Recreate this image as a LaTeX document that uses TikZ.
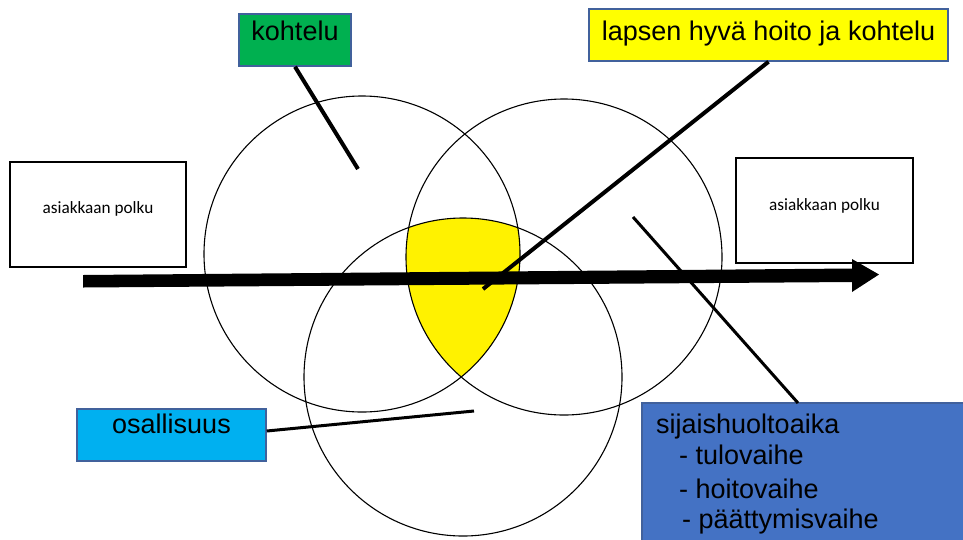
\documentclass[tikz,border=0pt]{standalone}
\usepackage{fontspec}
\setmainfont{Liberation Sans}
\newfontfamily\calib{Carlito}
\definecolor{greenbox}{HTML}{00B050}
\definecolor{yellowbox}{HTML}{FFFF00}
\definecolor{cyanbox}{HTML}{00B0F0}
\definecolor{bluebox}{HTML}{4472C4}
\definecolor{boxedge}{HTML}{41619C}
\definecolor{yellowzone}{HTML}{FFF200}
\begin{document}
\begin{tikzpicture}[x=1pt,y=-1pt,
  lbl/.style={draw=boxedge, line width=1.5pt, font=\fontsize{27}{32}\selectfont, inner sep=0pt},
  pathbox/.style={draw=black, line width=1.3pt, fill=white, font=\calib\fontsize{17.2}{20}\selectfont,
    inner sep=0pt, minimum width=176pt, minimum height=105pt},
  ring/.style={draw=black, line width=1.1pt},
  conn/.style={draw=black, line width=4pt},
  thinconn/.style={draw=black, line width=3pt},
  sijtext/.style={anchor=base west, inner sep=0pt, font=\fontsize{27}{32}\selectfont}
]
\useasboundingbox (0,0) rectangle (963,539);
\fill[white] (0,0) rectangle (963,539);

% circle centres
\coordinate (cL) at (362,254);
\coordinate (cR) at (564,257);
\coordinate (cB) at (463,377);

% common zone
\begin{scope}
  \clip (cL) circle[radius=158pt];
  \clip (cR) circle[radius=158pt];
  \fill[yellowzone] (cB) circle[radius=159pt];
\end{scope}

\draw[ring] (cL) circle[radius=158pt];
\draw[ring] (cR) circle[radius=158pt];
\draw[ring] (cB) circle[radius=159pt];

% customer path boxes
\node[pathbox, text height=12pt, text depth=15pt] (pathL) at (98,214.5) {asiakkaan polku};
\node[pathbox, minimum width=177pt, text height=12pt, text depth=12pt] (pathR) at (824.5,210.5) {asiakkaan polku};

% main arrow
\coordinate (arrS) at (83,281);
\coordinate (arrB) at (853,275);
\coordinate (arrT) at (879,274.5);
\fill[black] (83,275) -- (853,268.5) -- (853,282) -- (83,287.5) -- cycle;
\fill[black] (852,259) -- (arrT) -- (852,292) -- cycle;

% label boxes
\node[lbl, fill=greenbox, minimum width=112pt, minimum height=52pt,
      text height=20pt, text depth=20pt] (koh) at (295,40) {kohtelu};
\node[lbl, fill=yellowbox, minimum width=359pt, minimum height=52pt,
      text height=22pt, text depth=12pt] (lap) at (768.5,35) {lapsen hyvä hoito ja kohtelu};
\node[lbl, fill=cyanbox, minimum width=189pt, minimum height=52pt,
      text height=20pt, text depth=24pt] (osa) at (171.5,435) {osallisuus};
\node[lbl, draw=boxedge, fill=bluebox, anchor=north west, minimum width=340pt,
      minimum height=150pt] (sij) at (641,402) {};
\node[sijtext] (sij0) at (656,433) {sijaishuoltoaika};
\node[sijtext] (sij1) at (679,464) {- tulovaihe};
\node[sijtext] (sij2) at (679,498) {- hoitovaihe};
\node[sijtext] (sij3) at (682,528) {- päättymisvaihe};

% connector ends
\coordinate (kohE) at (358,169);
\coordinate (lapE) at (483,289);
\coordinate (osaE) at (474,411);
\coordinate (sijS) at (798,403);
\coordinate (sijE) at (633,217);

\draw[conn] (koh.south) -- (kohE);
\draw[conn] (lap.south) -- (lapE);
\draw[thinconn] ([yshift=4pt]osa.east) -- (osaE);
\draw[thinconn] (sijS) -- (sijE);
\end{tikzpicture}
\end{document}
